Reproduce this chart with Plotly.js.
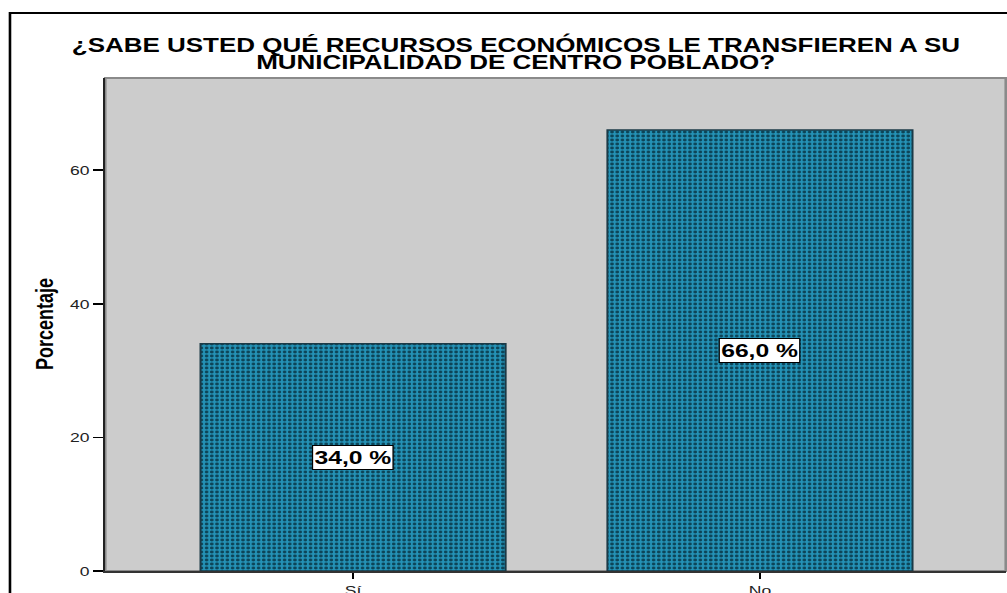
<!DOCTYPE html>
<html>
<head>
<meta charset="utf-8">
<script src="https://cdn.plot.ly/plotly-3.0.1.min.js"></script>
<style>
html,body{margin:0;padding:0;background:#fff;overflow:hidden;}
#wrap{width:1007px;height:593px;overflow:hidden;}
#chart{width:775px;height:593px;transform:scaleX(1.2994);transform-origin:0 0;}
</style>
</head>
<body>
<div id="wrap"><div id="chart"></div></div>
<script>
const categories = ["Sí", "No"];
const percentages = [34.0, 66.0];
const labels = ["34,0 %", "66,0 %"];
const titleLines = ["¿SABE USTED QUÉ RECURSOS ECONÓMICOS LE TRANSFIEREN A SU", "MUNICIPALIDAD DE CENTRO POBLADO?"];
const yTitle = "Porcentaje";
const yTicks = [0, 20, 40, 60];

const FONT = 'Liberation Sans, Arial, sans-serif';

const trace = {
  type: 'bar',
  x: [0, 1],
  y: percentages,
  width: 0.75,
  marker: {
    color: '#1f8db0',
    line: {color: '#1b3a47', width: 1.5},
    pattern: {shape: '.', fgcolor: '#0d4457', bgcolor: '#2492b6', size: 4, solidity: 0.4, fillmode: 'replace'}
  },
  hoverinfo: 'none'
};

const annotations = percentages.map((v, i) => ({
  x: i, y: v / 2, xref: 'x', yref: 'y',
  text: '<b>' + labels[i] + '</b>', showarrow: false,
  font: {family: FONT, size: 19, color: '#000'},
  bgcolor: '#ffffff', bordercolor: '#000000', borderwidth: 1, borderpad: 1
}));
titleLines.forEach((t, i) => annotations.push({
  xref: 'paper', yref: 'paper', x: 0.456, y: 1 + (i === 0 ? 34 : 16) / 493,
  xanchor: 'center', yanchor: 'middle', showarrow: false,
  text: '<b>' + t + '</b>',
  font: {family: FONT, size: 20, color: '#000'}
}));
annotations.push({
  xref: 'paper', yref: 'paper', x: -0.067, y: 0.5,
  xanchor: 'center', yanchor: 'middle', showarrow: false, textangle: -90,
  text: '<b>' + yTitle + '</b>',
  font: {family: 'Liberation Sans Narrow, Arial Narrow, Liberation Sans, sans-serif', size: 18, color: '#000'}
});

const layout = {
  width: 775, height: 593,
  margin: {l: 81, r: 1, t: 78, b: 22, pad: 0},
  paper_bgcolor: '#ffffff',
  plot_bgcolor: '#cccccc',
  showlegend: false,
  xaxis: {
    range: [-0.609, 1.604],
    tickmode: 'array', tickvals: [0, 1], ticktext: categories,
    ticks: 'outside', ticklen: 6, tickcolor: '#000', tickwidth: 1.2,
    showline: true, linecolor: '#333', linewidth: 2,
    showgrid: false, zeroline: false,
    tickfont: {family: FONT, size: 13.5, color: '#222'}
  },
  yaxis: {
    range: [0, 73.8],
    tickmode: 'array', tickvals: yTicks,
    ticks: 'outside', ticklen: 8, tickcolor: '#000', tickwidth: 1.5,
    showline: true, linecolor: '#222', linewidth: 1.5,
    showgrid: false, zeroline: false,
    tickfont: {family: FONT, size: 13.5, color: '#222'}
  },
  shapes: [
    {type: 'rect', xref: 'paper', yref: 'paper', x0: 0, x1: 1, y0: 0, y1: 1,
     line: {color: '#8a8a8a', width: 2}, layer: 'below'},
    {type: 'rect', xref: 'paper', yref: 'paper', x0: -0.1058, x1: 1.2, y0: -0.2, y1: 1 + 65/493,
     line: {color: '#000', width: 2}, fillcolor: 'rgba(0,0,0,0)'}
  ],
  annotations: annotations
};

Plotly.newPlot('chart', [trace], layout, {displayModeBar: false, staticPlot: true});
</script>
</body>
</html>
